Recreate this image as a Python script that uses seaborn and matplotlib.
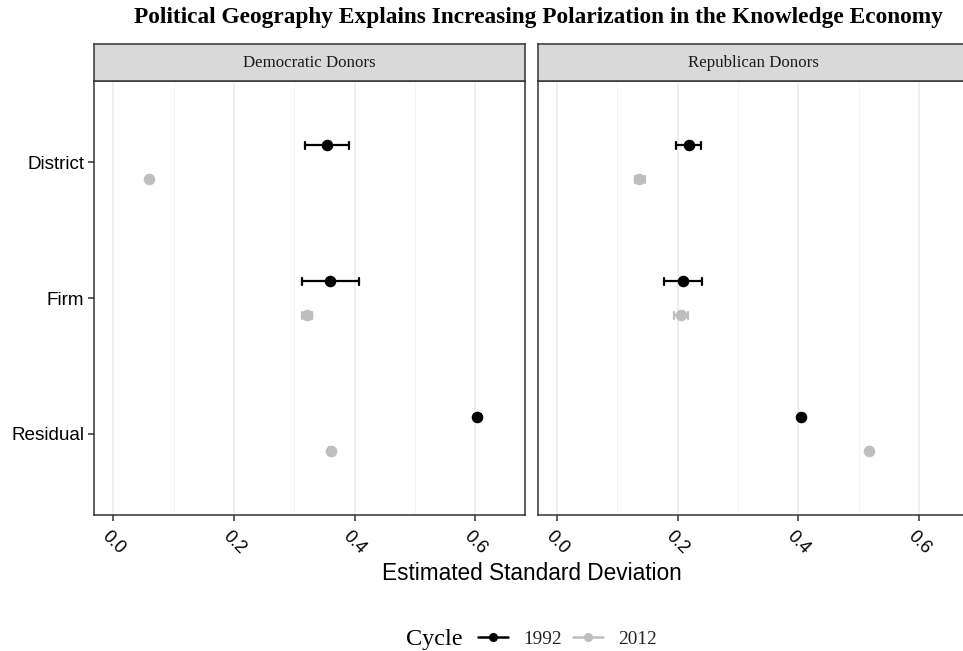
import numpy as np
import pandas as pd
import matplotlib
matplotlib.use("Agg")
import matplotlib.pyplot as plt
from matplotlib.lines import Line2D
import seaborn as sns

# ---- data ----
components = ["District", "Firm", "Residual"]
cycles = ["1992", "2012"]
panels = ["Democratic Donors", "Republican Donors"]

dem_1992_est = [0.354, 0.359, 0.603]
dem_1992_lo = [0.318, 0.312, 0.598]
dem_1992_hi = [0.391, 0.407, 0.609]
dem_2012_est = [0.059, 0.321, 0.360]
dem_2012_lo = [0.057, 0.313, 0.358]
dem_2012_hi = [0.061, 0.330, 0.362]

rep_1992_est = [0.218, 0.209, 0.405]
rep_1992_lo = [0.197, 0.178, 0.403]
rep_1992_hi = [0.239, 0.241, 0.407]
rep_2012_est = [0.136, 0.205, 0.517]
rep_2012_lo = [0.129, 0.194, 0.515]
rep_2012_hi = [0.146, 0.217, 0.519]

x_ticks = [0.0, 0.2, 0.4, 0.6]
x_tick_labels = ["0.0", "0.2", "0.4", "0.6"]

series = {
    ("Democratic Donors", "1992"): (dem_1992_est, dem_1992_lo, dem_1992_hi),
    ("Democratic Donors", "2012"): (dem_2012_est, dem_2012_lo, dem_2012_hi),
    ("Republican Donors", "1992"): (rep_1992_est, rep_1992_lo, rep_1992_hi),
    ("Republican Donors", "2012"): (rep_2012_est, rep_2012_lo, rep_2012_hi),
}
rows = []
for (panel, cyc), (est, lo, hi) in series.items():
    for comp, e, l, h in zip(components, est, lo, hi):
        for v in (l, e, h):
            rows.append({"panel": panel, "Cycle": cyc, "component": comp, "value": v})
df = pd.DataFrame(rows)

# ---- style ----
sns.set_theme(style="white")
plt.rcParams["font.family"] = ["Liberation Sans", "DejaVu Sans"]
SERIF = ["Liberation Serif", "DejaVu Serif"]
palette = {"1992": "#000000", "2012": "#bebebe"}
EDGE = "#333333"

W, H = 963, 651
fig = plt.figure(figsize=(W / 100, H / 100), dpi=100)

def fx(px):
    return px / W

def fy(py):
    return 1 - py / H

panel_left = [94, 537.7]
panel_w = 431
top, bottom = 81, 515.3
strip_top = 44.3

xlim = (-0.0318, 0.682)

for i, panel in enumerate(panels):
    ax = fig.add_axes([fx(panel_left[i]), fy(bottom), fx(panel_w), (bottom - top) / H])
    sub = df[df["panel"] == panel]
    sns.pointplot(
        data=sub, x="value", y="component", hue="Cycle",
        order=components, hue_order=cycles, palette=palette,
        estimator="median", errorbar=("pi", 100),
        dodge=0.25, linestyle="none", markers="o",
        capsize=0.05, markersize=6.3,
        err_kws={"linewidth": 1.6},
        ax=ax, legend=False,
    )
    ax.set_xlim(*xlim)
    ax.set_ylim(2.6, -0.6)
    ax.set_xticks(x_ticks)
    ax.set_xticks([0.1, 0.3, 0.5], minor=True)
    ax.grid(False)
    ax.grid(True, axis="x", which="major", color="#ebebeb", linewidth=1.1)
    ax.grid(True, axis="x", which="minor", color="#f2f2f2", linewidth=0.6)
    ax.set_axisbelow(True)
    for sp in ax.spines.values():
        sp.set_visible(True)
        sp.set_color(EDGE)
        sp.set_linewidth(1.1)
    ax.set_xlabel("")
    ax.set_ylabel("")
    ax.set_xticklabels(x_tick_labels, rotation=-45, ha="center", va="center",
                       rotation_mode="anchor", fontsize=13, color="#000000")
    ax.tick_params(axis="x", which="major", length=4, width=1.1, color=EDGE, pad=15.5, bottom=True)
    ax.tick_params(axis="x", which="minor", length=0)
    if i == 0:
        ax.tick_params(axis="y", length=4, width=1.1, color=EDGE, left=True, labelsize=13.6,
                       labelcolor="#000000", pad=3)
    else:
        ax.tick_params(axis="y", left=False, labelleft=False)

    # strip
    sax = fig.add_axes([fx(panel_left[i]), fy(top), fx(panel_w), (top - strip_top) / H])
    sax.set_facecolor("#d9d9d9")
    sax.set_xticks([])
    sax.set_yticks([])
    for sp in sax.spines.values():
        sp.set_color(EDGE)
        sp.set_linewidth(1.1)
    sax.text(0.5, 0.5, panel, transform=sax.transAxes, ha="center", va="center",
             family=SERIF, fontsize=12.2, color="#1a1a1a")

# title
fig.text(fx(539), fy(17), "Political Geography Explains Increasing Polarization in the Knowledge Economy",
         ha="center", va="center", family=SERIF, fontweight="bold", fontsize=16.8, color="#000000")

# x axis title
fig.text(fx(531.5), fy(573), "Estimated Standard Deviation", ha="center", va="center",
         fontsize=16.3, color="#000000")

# legend
fig.text(fx(406), fy(639), "Cycle", ha="left", va="center", family=SERIF, fontsize=17.5, color="#000000")
handles = [Line2D([0], [0], color=palette[c], marker="o", markersize=5.5, linewidth=1.8) for c in cycles]
fig.legend(handles, cycles, loc="center left", bbox_to_anchor=(fx(478), fy(639)), ncol=2,
           frameon=False, prop={"family": "Liberation Serif", "size": 13.9},
           handlelength=1.55, handletextpad=0.78, columnspacing=0.6, borderaxespad=0, borderpad=0)

fig.savefig("out.png", dpi=100)
